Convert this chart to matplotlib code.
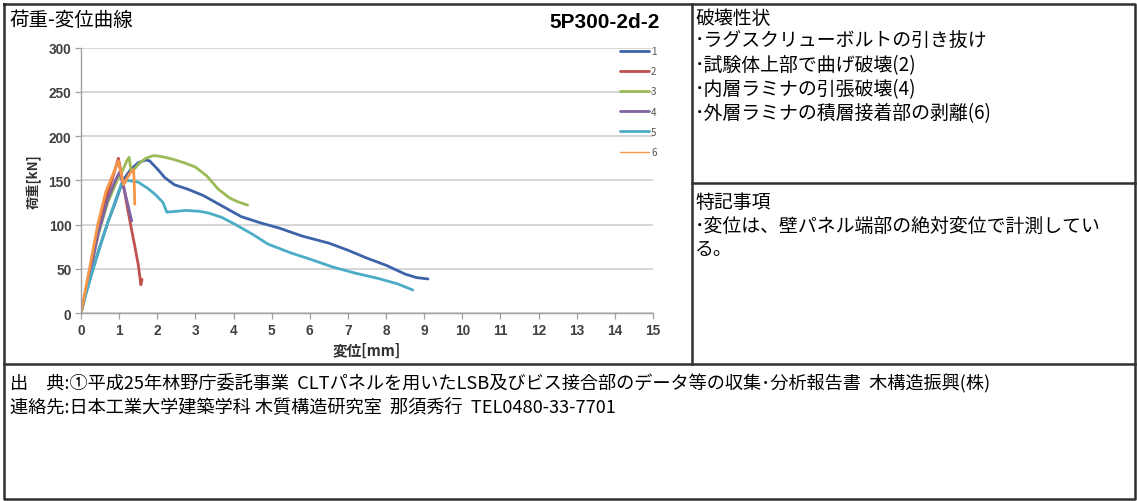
import matplotlib
matplotlib.use('Agg')
import matplotlib.pyplot as plt
from matplotlib.lines import Line2D

plt.rcParams['font.family'] = ['Noto Sans CJK JP', 'DejaVu Sans']

# 荷重-変位データ (変位 mm, 荷重 kN)
disp_1 = [0, 0.1, 0.3, 0.5, 0.7, 0.9, 1.1, 1.3, 1.5, 1.7, 1.8, 2.0, 2.2, 2.45, 2.8, 3.2, 3.7, 4.2, 4.7,
          5.2, 5.8, 6.5, 7.0, 7.5, 8.0, 8.5, 8.8, 9.1]
load_1 = [0, 18, 48, 76, 102, 125, 150, 162, 170, 173, 172, 163, 153, 145, 140, 133, 121, 109, 102,
          96, 87, 79, 71, 62, 54, 44, 40, 38.5]
disp_2 = [0, 0.2, 0.45, 0.7, 0.9, 0.98, 1.1, 1.2, 1.3, 1.4, 1.5, 1.57, 1.6]
load_2 = [0, 40, 95, 135, 163, 175, 148, 123, 100, 78, 55, 32, 38]
disp_3 = [0, 0.2, 0.45, 0.7, 0.95, 1.1, 1.2, 1.26, 1.32, 1.4, 1.55, 1.7, 1.9, 2.1, 2.4, 2.7, 3.0,
          3.3, 3.6, 3.9, 4.1, 4.37]
load_3 = [0, 38, 88, 125, 150, 162, 172, 176, 160, 163, 170, 175, 178, 177, 174, 170, 165,
          155, 140, 130, 126, 122]
disp_4 = [0, 0.2, 0.45, 0.7, 0.9, 1.02, 1.1, 1.2, 1.28, 1.33]
load_4 = [0, 38, 90, 128, 150, 160, 145, 128, 113, 104]
disp_5 = [0, 0.1, 0.3, 0.5, 0.7, 0.9, 1.05, 1.2, 1.5, 1.75, 1.95, 2.15, 2.25, 2.5, 2.75, 3.1,
          3.35, 3.7, 4.05, 4.5, 4.9, 5.5, 6.0, 6.6, 7.2, 7.8, 8.3, 8.7]
load_5 = [0, 17, 47, 75, 102, 127, 145, 150, 148, 141, 134, 125, 114, 115, 116, 115,
          113, 108, 100, 89, 78, 68, 61, 52, 45, 39, 33, 26]
disp_6 = [0, 0.2, 0.44, 0.65, 0.87, 0.98, 1.05, 1.12, 1.2, 1.3, 1.38, 1.40, 1.41]
load_6 = [0, 45, 100, 137, 160, 172, 158, 145, 152, 159, 162, 142, 123]

series = [(disp_1, load_1, '1', '#3d64a8'),
          (disp_2, load_2, '2', '#c0504d'),
          (disp_3, load_3, '3', '#9bbb59'),
          (disp_4, load_4, '4', '#8064a2'),
          (disp_5, load_5, '5', '#4bacc6'),
          (disp_6, load_6, '6', '#f79646')]

x_ticks = list(range(0, 16))
y_ticks = [0, 50, 100, 150, 200, 250, 300]

W, H = 1137, 502
fig = plt.figure(figsize=(W / 100, H / 100), dpi=100)
fig.patch.set_facecolor('white')


def fx(px):
    return px / W


def fy(py):
    return 1 - py / H


# グラフ領域
ax = fig.add_axes([fx(81), fy(314), fx(653) - fx(81), fy(48.7) - fy(314)])
for xs, ys, name, color in series:
    ax.plot(xs, ys, color=color, linewidth=2.0, label=name, solid_capstyle='round')

ax.set_xlim(0, 15)
ax.set_ylim(0, 300)
ax.set_xticks(x_ticks)
ax.set_yticks(y_ticks)
ax.grid(axis='y', color='#d0d0d0', linewidth=1.2)
ax.set_axisbelow(True)
for side in ['top', 'right']:
    ax.spines[side].set_visible(False)
for side in ['left', 'bottom']:
    ax.spines[side].set_color('#a0a0a0')
    ax.spines[side].set_linewidth(1.0)
ax.tick_params(direction='out', length=4, width=0.9, color='#a0a0a0',
               labelsize=9.8, labelcolor='#404040', pad=3)
for lab in ax.get_xticklabels() + ax.get_yticklabels():
    lab.set_family('Liberation Sans')
    lab.set_fontweight('bold')

ax.set_xlabel('変位[mm]', fontsize=10.5, fontweight='bold', color='#303030', labelpad=4)
ax.set_ylabel('荷重[kN]', fontsize=9.5, fontweight='bold', color='#303030', labelpad=5)

leg = ax.legend(loc='upper left', bbox_to_anchor=(fx(620), fy(47)),
                bbox_transform=fig.transFigure, frameon=False, fontsize=7,
                handlelength=3.0, handletextpad=0.2, labelspacing=1.05,
                borderpad=0, borderaxespad=0)
for txt in leg.get_texts():
    txt.set_color('#505050')
leg.get_lines()[5].set_linewidth(1.0)

# 表の罫線
border = dict(color='#303030', linewidth=1.8, transform=fig.transFigure)
fig.add_artist(Line2D([fx(4), fx(1135), fx(1135), fx(4), fx(4)],
                      [fy(5), fy(5), fy(500), fy(500), fy(5)], **border))
fig.add_artist(Line2D([fx(692), fx(692)], [fy(5), fy(365)], **border))
fig.add_artist(Line2D([fx(4), fx(1135)], [fy(365), fy(365)], **border))
fig.add_artist(Line2D([fx(692), fx(1135)], [fy(184), fy(184)], **border))

# 見出し
fig.text(fx(9), fy(20), '荷重-変位曲線', fontsize=14, va='center', ha='left')
fig.text(fx(660), fy(22), '5P300-2d-2', fontsize=15, fontweight='bold',
         family='Liberation Sans', va='center', ha='right')

# 右側の記述
damage = ['破壊性状',
          '･ラグスクリューボルトの引き抜け',
          '･試験体上部で曲げ破壊(2)',
          '･内層ラミナの引張破壊(4)',
          '･外層ラミナの積層接着部の剥離(6)']
for i, line in enumerate(damage):
    fig.text(fx(695), fy(18 + i * 23.8), line, fontsize=13.6, va='center', ha='left')

notes = ['特記事項',
         '･変位は、壁パネル端部の絶対変位で計測してい',
         'る。']
for i, line in enumerate(notes):
    fig.text(fx(695), fy(202 + i * 24), line, fontsize=13.6, va='center', ha='left')

# 出典・連絡先
fig.text(fx(10), fy(383), '出　典:①平成25年林野庁委託事業  CLTパネルを用いたLSB及びビス接合部のデータ等の収集･分析報告書  木構造振興(株)',
         fontsize=13.1, va='center', ha='left')
fig.text(fx(10), fy(408), '連絡先:日本工業大学建築学科 木質構造研究室  那須秀行  TEL0480-33-7701',
         fontsize=13.1, va='center', ha='left')

fig.savefig('out.png', dpi=100)
